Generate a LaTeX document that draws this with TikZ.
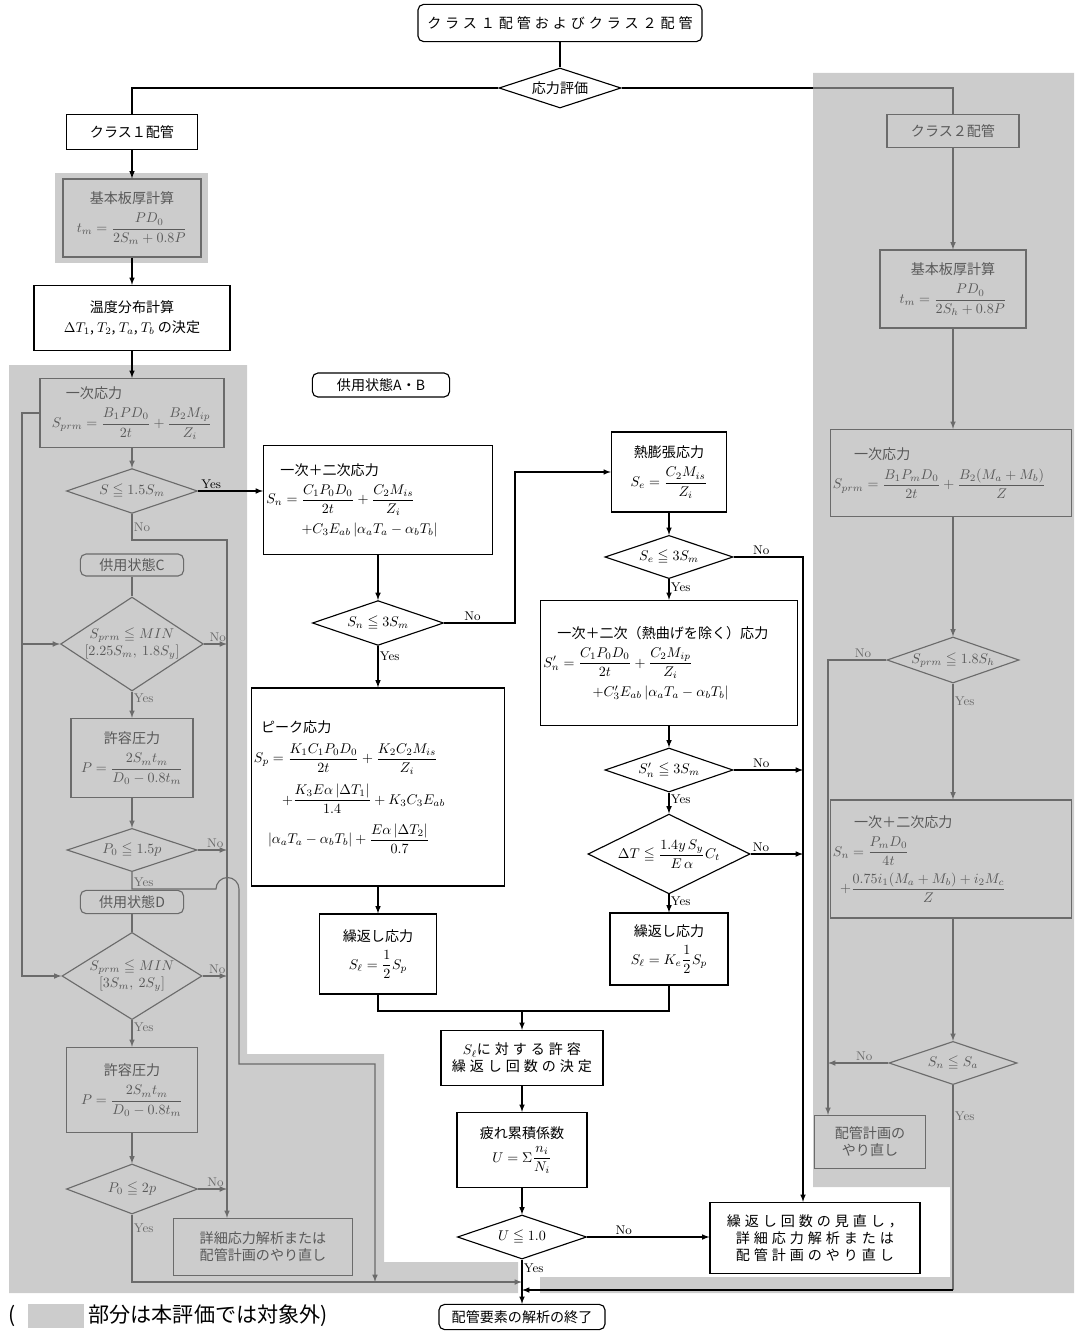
\documentclass[tikz,border=0pt]{standalone}
\usepackage{amsmath}
\usepackage{amssymb}
\usepackage{fontspec}
\usepackage{tikz}
\usetikzlibrary{shapes.geometric}
\newfontfamily\jp{Noto Sans CJK JP}
\newfontfamily\jpw[LetterSpace=28]{Noto Sans CJK JP}
\definecolor{outbg}{gray}{0.80}
\definecolor{outln}{gray}{0.42}
\definecolor{outtx}{gray}{0.35}

\begin{document}
\begin{tikzpicture}[x=0.025cm,y=-0.025cm,line width=0.8pt,
  box/.style={draw,fill=white,align=center,font=\jp,inner sep=2pt},
  gbox/.style={box,draw=outln,fill=outbg,text=outtx},
  term/.style={box,rounded corners=4pt},
  gterm/.style={gbox,rounded corners=4pt},
  dec/.style={diamond,aspect=2.8,draw,fill=white,inner sep=0pt,font=\jp,align=center},
  gdec/.style={dec,draw=outln,fill=outbg,text=outtx},
  arr/.style={-latex},
  lbl/.style={font=\small,inner sep=1pt}]
\useasboundingbox (0,0) rectangle (1074,1333);

% parts not evaluated (grey)
\fill[outbg] (9,365) -- (247,365) -- (247,1054) -- (384,1054) -- (384,1262)
  -- (518,1262) -- (518,1293) -- (9,1293) -- cycle;
\fill[outbg] (813,73) -- (1074,73) -- (1074,1293) -- (540,1293) -- (540,1277)
  -- (950,1277) -- (950,1187) -- (813,1187) -- cycle;
\fill[outbg] (55,173) rectangle (208,263);

% top
\node[term,font=\jpw,minimum width=7.1cm,minimum height=0.93cm] (start) at (560,23) {クラス１配管およびクラス２配管};
\node[dec,minimum width=3.05cm,minimum height=1cm] (eval) at (560,88) {応力評価};

% class 1, left column
\node[box,minimum width=3.28cm,minimum height=0.88cm] (cls1) at (132,132) {クラス１配管};
\node[gbox,minimum width=3.45cm,minimum height=1.95cm] (thk1) at (132,218) {基本板厚計算\\[5pt] $t_m=\dfrac{PD_0}{2S_m+0.8P}$};
\node[box,minimum width=4.9cm,minimum height=1.63cm] (temp) at (132,318) {温度分布計算\\[2pt] $\Delta T_1$, $T_2$, $T_a$, $T_b$ の決定};
\node[gbox,align=left,minimum width=4.6cm,minimum height=1.73cm] (prm1) at (132,413) {\hspace*{1em}一次応力\\[5pt] $S_{prm}=\dfrac{B_1PD_0}{2t}+\dfrac{B_2M_{ip}}{Z_i}$};
\node[gdec,minimum width=3.28cm,minimum height=1.12cm] (dA) at (132,491) {$S\leqq1.5S_m$};
\node[gterm,minimum width=2.58cm,minimum height=0.55cm,inner sep=1pt] (lvC) at (132,565) {供用状態C};
\node[gdec,aspect=1.52,minimum width=3.5cm,minimum height=2.3cm] (dC) at (132,644) {$S_{prm}\leqq MIN$\\ $[2.25S_m,\ 1.8S_y]$};
\node[gbox,minimum width=3.05cm,minimum height=1.98cm] (prsC) at (132,758) {許容圧力\\[5pt] $P=\dfrac{2S_mt_m}{D_0-0.8t_m}$};
\node[gdec,minimum width=3.25cm,minimum height=1.08cm] (dC2) at (132,850) {$P_0\leqq1.5p$};
\node[gterm,minimum width=2.58cm,minimum height=0.58cm,inner sep=1pt] (lvD) at (132,902) {供用状態D};
\node[gdec,aspect=1.6,minimum width=3.5cm,minimum height=2.18cm] (dD) at (132,976) {$S_{prm}\leqq MIN$\\ $[3S_m,\ 2S_y]$};
\node[gbox,minimum width=3.28cm,minimum height=2.13cm] (prsD) at (132,1090) {許容圧力\\[5pt] $P=\dfrac{2S_mt_m}{D_0-0.8t_m}$};
\node[gdec,minimum width=3.28cm,minimum height=1.25cm] (dD2) at (132,1189) {$P_0\leqq2p$};
\node[gbox,minimum width=4.48cm,minimum height=1.43cm] (redo1) at (263,1247) {詳細応力解析または\\配管計画のやり直し};

% service levels A, B
\node[term,minimum width=3.43cm,minimum height=0.6cm,inner sep=1pt] (lvAB) at (381,385) {供用状態A・B};
\node[box,align=left,text width=5.58cm,minimum height=2.73cm] (ps1) at (378,500)
  {\hspace*{1em}一次＋二次応力\\[5pt]
   $S_n=\dfrac{C_1P_0D_0}{2t}+\dfrac{C_2M_{is}}{Z_i}$\\[4pt]
   \hspace*{2.5em}$+C_3E_{ab}\left|\alpha_aT_a-\alpha_bT_b\right|$};
\node[dec,minimum width=3.28cm,minimum height=1.12cm] (dSn) at (378,623) {$S_n\leqq3S_m$};
\node[box,align=left,text width=6.2cm,minimum height=4.95cm] (peak) at (378,787)
  {\hspace*{0.5em}ピーク応力\\[6pt]
   $S_p=\dfrac{K_1C_1P_0D_0}{2t}+\dfrac{K_2C_2M_{is}}{Z_i}$\\[6pt]
   \hspace*{2em}$+\dfrac{K_3E\alpha\left|\Delta T_1\right|}{1.4}+K_3C_3E_{ab}$\\[6pt]
   \hspace*{1em}$\left|\alpha_aT_a-\alpha_bT_b\right|+\dfrac{E\alpha\left|\Delta T_2\right|}{0.7}$};
\node[box,minimum width=2.93cm,minimum height=2cm] (cyc1) at (378,954) {繰返し応力\\[5pt] $S_\ell=\dfrac{1}{2}S_p$};

\node[box,minimum width=2.88cm,minimum height=2cm] (therm) at (669,472) {熱膨張応力\\[5pt] $S_e=\dfrac{C_2M_{is}}{Z_i}$};
\node[dec,minimum width=3.2cm,minimum height=1.08cm] (dSe) at (669,557) {$S_e\leqq3S_m$};
\node[box,align=left,text width=6.28cm,minimum height=3.13cm] (ps2) at (669,663)
  {\hspace*{1em}一次＋二次（熱曲げを除く）応力\\[5pt]
   $S_n'=\dfrac{C_1P_0D_0}{2t}+\dfrac{C_2M_{ip}}{Z_i}$\\[4pt]
   \hspace*{3.5em}$+C_3'E_{ab}\left|\alpha_aT_a-\alpha_bT_b\right|$};
\node[dec,minimum width=3.2cm,minimum height=1.1cm] (dSn2) at (669,770) {$S_n'\leqq3S_m$};
\node[dec,aspect=2,minimum width=4.05cm,minimum height=1.95cm] (dDT) at (669,854) {$\Delta T\leqq\dfrac{1.4y\,S_y}{E\,\alpha}C_t$};
\node[box,minimum width=2.95cm,minimum height=1.8cm] (cyc2) at (669,949) {繰返し応力\\[5pt] $S_\ell=K_e\dfrac{1}{2}S_p$};

\node[box,font=\jpw,minimum width=4.05cm,minimum height=1.38cm] (allow) at (522,1058) {$S_\ell$に対する許容\\繰返し回数の決定};
\node[box,minimum width=3.25cm,minimum height=1.88cm] (fat) at (522,1150) {疲れ累積係数\\[5pt] $U=\Sigma\dfrac{n_i}{N_i}$};
\node[dec,minimum width=3.23cm,minimum height=1.1cm] (dU) at (522,1237) {$U\leqq1.0$};
\node[box,font=\jpw,minimum width=5.25cm,minimum height=1.78cm] (review) at (815,1238) {繰返し回数の見直し，\\詳細応力解析または\\配管計画のやり直し};
\node[term,minimum width=4.15cm,minimum height=0.63cm,inner sep=1pt] (fin) at (522,1317) {配管要素の解析の終了};

% class 2, right column
\node[gbox,minimum width=3.3cm,minimum height=0.83cm] (cls2) at (953,131) {クラス２配管};
\node[gbox,minimum width=3.65cm,minimum height=1.95cm] (thk2) at (953,289) {基本板厚計算\\[5pt] $t_m=\dfrac{PD_0}{2S_h+0.8P}$};
\node[gbox,align=left,text width=5.9cm,minimum height=2.18cm] (prm2) at (951,473) {\hspace*{1.5em}一次応力\\[5pt] $S_{prm}=\dfrac{B_1P_mD_0}{2t}+\dfrac{B_2(M_a+M_b)}{Z}$};
\node[gdec,minimum width=3.3cm,minimum height=1.15cm] (dS2) at (953,660) {$S_{prm}\leqq1.8S_h$};
\node[gbox,align=left,text width=5.9cm,minimum height=2.95cm] (ps3) at (951,859)
  {\hspace*{1.5em}一次＋二次応力\\[5pt]
   $S_n=\dfrac{P_mD_0}{4t}$\\[4pt]
   \hspace*{0.5em}$+\dfrac{0.75i_1(M_a+M_b)+i_2M_c}{Z}$};
\node[gdec,minimum width=3.2cm,minimum height=1.08cm] (dSa) at (953,1063) {$S_n\leqq S_a$};
\node[gbox,minimum width=2.78cm,minimum height=1.33cm] (redo2) at (870,1142) {配管計画の\\やり直し};

% rails and joints
\coordinate (noL) at (227,540);
\coordinate (fb) at (22,413);
\coordinate (bmp) at (216,889);
\coordinate (ycC) at (239,1064);
\coordinate (jM) at (375,1282);
\coordinate (jL) at (522,1282);
\coordinate (jR) at (522,1290);
\coordinate (sR) at (953,1290);
\coordinate (sw1) at (515,623);
\coordinate (mrg) at (522,1011);
\coordinate (rail) at (803,557);
\coordinate (rail2) at (828,660);

% top connectors
\draw (start) -- (eval);
\draw (eval.west) -| (cls1.north);
\draw (eval.east) -- (813,88);
\draw[outln] (813,88) -| (cls2.north);

% left column
\draw[arr] (cls1) -- (thk1);
\draw[arr] (thk1) -- (temp);
\draw[arr] (temp) -- (prm1);
\draw[arr,outln] (prm1) -- (dA);
\draw[arr] (dA.east) -- (dA.east -| ps1.west) node[lbl,pos=0.2,above] {Yes};
\draw[arr,outln] (dA.south) -- node[lbl,right] {No} (dA.south |- noL) -- (noL) -- (noL |- redo1.north);
\draw[outln] (lvC) -- (dC);
\draw[arr,outln] (dC.east) -- (dC.east -| noL) node[lbl,pos=0.6,above] {No};
\draw[arr,outln] (dC) -- (prsC) node[lbl,pos=0.25,right] {Yes};
\draw[arr,outln] (prsC) -- (dC2);
\draw[arr,outln] (dC2.east) -- (dC2.east -| noL) node[lbl,pos=0.6,above] {No};
\draw[arr,outln] (dC2.south) |- node[lbl,pos=0.3,right] {Yes} (bmp) arc[start angle=180,end angle=0,radius=0.2875cm] -- (ycC) -| (jM);
\draw[outln] (lvD) -- (dD);
\draw[arr,outln] (dD.east) -- (dD.east -| noL) node[lbl,pos=0.6,above] {No};
\draw[arr,outln] (dD) -- (prsD) node[lbl,pos=0.25,right] {Yes};
\draw[arr,outln] (prsD) -- (dD2);
\draw[arr,outln] (dD2.east) -- (dD2.east -| noL) node[lbl,pos=0.6,above] {No};
\draw[arr,outln] (dD2.south) |- node[lbl,pos=0.1,right] {Yes} (jL);
\draw[arr,outln] (prm1.west) -- (fb) |- (dD.west);
\draw[arr,outln] (fb |- dC.west) -- (dC.west);

% middle columns
\draw[arr] (ps1) -- (dSn);
\draw[arr] (dSn.east) -- node[lbl,pos=0.4,above] {No} (sw1) |- (therm.west);
\draw[arr] (dSn) -- (peak) node[lbl,pos=0.25,right] {Yes};
\draw[arr] (peak) -- (cyc1);
\draw (cyc1.south) |- (mrg);
\draw (cyc2.south) |- (mrg);
\draw[arr] (mrg) -- (allow);
\draw[arr] (allow) -- (fat);
\draw[arr] (fat) -- (dU);
\draw[arr] (dU.east) -- (dU.east -| review.west) node[lbl,pos=0.3,above] {No};
\draw[arr] (dU) -- (fin) node[lbl,pos=0.2,right] {Yes};

\draw[arr] (therm) -- (dSe);
\draw[arr] (dSe.east) -- node[lbl,pos=0.4,above] {No} (rail) -- (rail |- review.north);
\draw[arr] (dSe) -- (ps2) node[lbl,pos=0.4,right] {Yes};
\draw[arr] (ps2) -- (dSn2);
\draw[arr] (dSn2.east) -- (dSn2.east -| rail) node[lbl,pos=0.4,above] {No};
\draw[arr] (dSn2) -- (dDT) node[lbl,pos=0.3,right] {Yes};
\draw[arr] (dDT.east) -- (dDT.east -| rail) node[lbl,pos=0.2,above] {No};
\draw[arr] (dDT) -- (cyc2) node[lbl,pos=0.4,right] {Yes};

% right column
\draw[arr,outln] (cls2) -- (thk2);
\draw[arr,outln] (thk2.south) -- (thk2.south |- prm2.north);
\draw[arr,outln] (dS2.north |- prm2.south) -- (dS2.north);
\draw[arr,outln] (dS2.south) -- (dS2.south |- ps3.north) node[lbl,pos=0.15,right] {Yes};
\draw[arr,outln] (dSa.north |- ps3.south) -- (dSa.north);
\draw[arr,outln] (dS2.west) -- node[lbl,pos=0.4,above] {No} (rail2) -- (rail2 |- redo2.north);
\draw[arr,outln] (dSa.west) -- (dSa.west -| rail2) node[lbl,pos=0.4,above] {No};
\draw[outln] (dSa.south) -- (sR) node[lbl,pos=0.15,right] {Yes};
\draw[arr] (sR) -- (jR);

% legend
\node[font=\jp\fontsize{15}{18}\selectfont,anchor=west,inner sep=0pt] (paren) at (8,1316) {(};
\fill[outbg] (28,1304) rectangle (84,1328);
\node[font=\jp\fontsize{15}{18}\selectfont,anchor=west,inner sep=0pt] (legend) at (88,1316) {部分は本評価では対象外)};
\end{tikzpicture}
\end{document}
